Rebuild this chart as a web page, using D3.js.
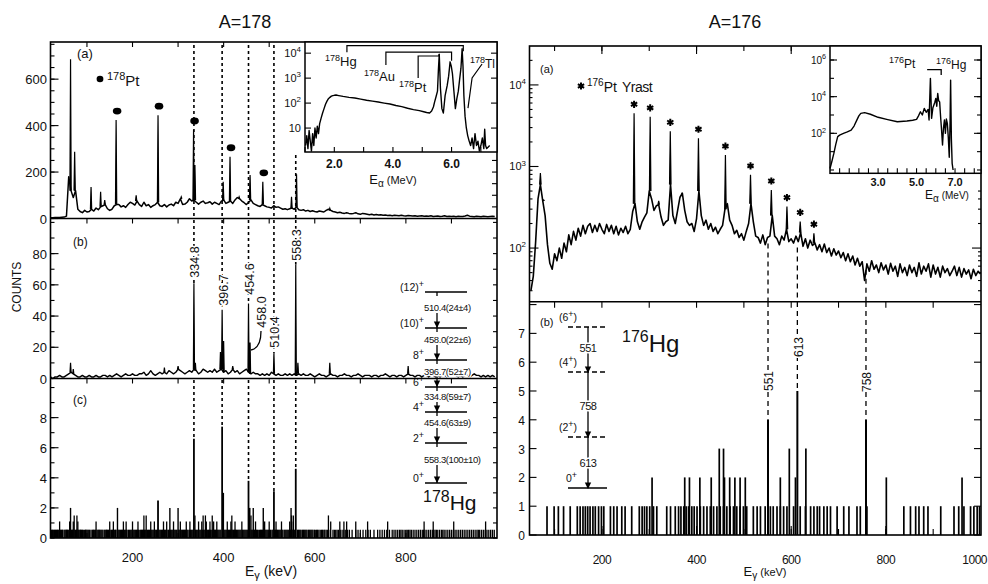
<!DOCTYPE html>
<html>
<head>
<meta charset="utf-8">
<script src="https://cdn.jsdelivr.net/npm/d3@7"></script>
<style>
  body { margin: 0; background: #fff; }
  text { fill: #111; }
</style>
</head>
<body>
<script>
// ===================== data : A=178 =====================
// gamma channels start at 20 keV, 5 keV apart
var chStart178 = 20, chStep178 = 5;

// (a) singles spectrum, background trace
var singles178 = [
  3,3,4,4,4,5,6,10,180,120,
  90,120,40,30,25,35,28,30,40,32,
  45,38,50,55,60,42,35,40,55,60,
  60,50,55,48,60,70,65,58,75,60,
  52,70,55,60,48,55,60,70,55,52,
  60,50,58,62,55,70,65,85,60,62,
  70,85,75,80,70,62,70,75,65,68,
  72,62,70,65,60,75,80,65,70,75,
  65,80,90,85,75,68,60,70,80,65,
  60,55,52,60,55,50,48,45,55,48,
  50,45,40,42,38,42,45,40,50,38,
  35,38,32,35,30,33,30,28,32,30,
  28,35,40,35,30,28,25,27,24,22,
  25,22,20,22,25,20,18,22,20,18,
  16,18,15,17,15,16,14,15,13,14,
  12,14,13,12,14,12,11,13,12,11,
  12,10,11,12,10,11,10,12,9,10,
  11,9,10,12,9,10,9,10,8,10,
  9,9,11,14,10,9,8,10,9,8,
  10,9,8,9,10,9
];
// (a) singles peaks [keV, counts]
var singlesPeaks178 = [
  [64,686],[73,287],[109,136],[130,115],[139,79],[164,424],[208,100],
  [256,445],[307,93],[334,381],[337,230],[399,158],[414,266],[434,93],
  [458,187],[486,158],[549,93],[560,190],[633,44]
];
var ptDots178 = [164, 256, 334, 414, 486];

// (b) gated spectrum
var gated178 = [
  1,0,1,1,2,1,1,2,3,4,
  3,2,1,1,2,1,1,2,1,1,
  2,1,1,2,2,1,2,1,2,3,
  2,1,2,3,2,2,3,2,2,3,
  3,4,2,3,5,3,2,3,4,3,
  4,3,5,4,3,4,6,5,4,3,
  4,5,4,6,5,3,4,6,5,4,
  5,4,6,4,5,6,4,5,3,4,
  6,4,5,3,4,5,6,4,3,4,
  3,3,2,3,2,3,2,4,3,2,
  3,2,2,3,2,3,2,3,2,3,
  2,3,2,2,3,2,1,2,3,2,
  2,1,2,3,2,2,1,2,2,3,
  2,2,1,2,2,3,2,1,2,2,
  2,1,2,2,1,2,2,3,2,1,
  2,2,1,2,2,1,2,3,2,2,
  1,2,2,1,2,2,1,2,2,1,
  2,1,2,2,1,2,3,2,2,1,
  2,1,2,2,1,2,3,2,2,1,
  2,1,2,1,2,1
];
var gatedPeaks178 = [
  [64,10],[70,6],[270,7],[300,8],[334.8,61],[338,10],[393,17],[396.7,44],
  [400,24],[420,8],[454.6,48],[458,23],[510.4,16],[558.3,73],[563,10],
  [633,10],[805,8],[925,5]
];

// (c) recoil-decay tagged spectrum, bars by height
var cHalf178 = [22,25,29,33,36,40,44,47,52,55,58,62,66,69,75,78,83,86,90,95,98,
  102,106,112,115,119,124,127,131,135,140,143,147,151,156,160,163,168,172,176,
  180,184,188,193,197,201,205,209,213,218,222,226,230,235,239,243,247,251,255,
  260,264,268,272,276,281,285,289,293,297,302,306,310,314,318,322,327,331,338,
  342,346,350,355,359,363,367,371,376,380,384,388,392,401,405,409,413,418,422,
  426,430,434,438,443,447,451,460,464,468,472,476,481,485,489,493,497,501,506,
  514,518,522,526,530,535,539,543,547,552,556,562,566,570,575,579,583,588,592,
  596,601,606,612,617,622,628,640,646,652,660,668,676,690,700,712,722,738,748,
  758,770,778,786,792,800,806,812,820,828,836,842,850,858,864,870,878,884,892,
  900,908,916,924,932,940,948,956,962,970,978,986,994,
  24,27,31,35,38,42,46,50,54,57,60,64,68,72,77,81,85,88,92,97,100,104,109,114,
  117,122,126,129,133,138,142,145,149,154,158,162,166,170,174,178,182,186,191,
  195,199,203,207,211,216,220,224,228,233,237,241,245,249,253,258,262,266,270,
  274,279,283,287,291,295,300,304,308,312,316,320,325,329,333,340,344,348,353,
  357,361,365,369,374,378,382,386,390,394,403,407,411,415,420,424,428,432,436,
  441,445,449,453,462,466,470,474,479,483,487,491,495,499,503,508,512,516,520,
  524,528,533,537,541,545,550,554,558,564,568,573,577,581,586,590,594,599,604,
  609,615,620,625,634,643,649,656,664,672,682,695,706,717,730,743,753,764,774,
  782,789,796,803,809,816,824,832,839,846,854,861,867,874,881,888,896,904,912,
  920,928,936,944,952,959,966,974,982,990];
var cOne178 = [40,62,70,80,120,150,158,180,186,200,212,240,248,268,275,290,305,
  318,326,345,352,362,370,378,385,408,416,425,440,470,490,500,515,527,545,553,
  635,655,664,670,690,716,760,840,860,905,975];
var cOneHalf178 = [72,78,225,230,337,355,360,375,418,460,549,553,630];
var cTwo178 = [64,167,282,300,465,487,548];
var cPeaks178 = [[256,2.5],[334.8,6.6],[396.7,7.4],[399,3],[454.6,3.8],[457,2],
  [510.4,3.1],[558.3,4.6]];

var lines178 = [334.8, 396.7, 454.6, 510.4, 558.3];
var lineLabels178 = ["334.8", "396.7", "454.6", "510.4", "558.3"];

// inset: alpha spectrum [MeV, counts]
var alpha178 = [
  [1.02,2],[1.06,5],[1.1,1.5],[1.14,8],[1.18,3],[1.22,1.2],[1.26,6],[1.3,2],
  [1.34,10],[1.38,4],[1.42,12],[1.46,6],[1.5,15],[1.55,25],[1.6,40],[1.65,60],
  [1.7,90],[1.75,120],[1.8,150],[1.85,170],[1.9,190],[1.95,200],[2.0,205],
  [2.06,210],[2.15,200],[2.3,185],[2.5,170],[2.7,160],[2.9,145],[3.1,130],
  [3.3,120],[3.5,110],[3.7,100],[3.9,92],[4.1,80],[4.3,72],[4.5,62],[4.7,55],
  [4.9,50],[5.05,45],[5.15,42],[5.25,40],[5.32,48],[5.38,70],[5.42,110],
  [5.47,180],[5.52,300],[5.55,2000],[5.58,9000],[5.62,400],[5.67,60],
  [5.72,40],[5.78,200],[5.85,500],[5.9,1200],[5.95,4500],[5.99,3000],
  [6.03,1500],[6.08,300],[6.13,60],[6.18,150],[6.23,300],[6.28,1000],
  [6.32,2500],[6.36,15000],[6.39,3000],[6.42,200],[6.46,30],[6.5,11],[6.55,5],
  [6.6,3],[6.65,2],[6.7,4],[6.75,1.5],[6.8,6],[6.85,2],[6.9,3],[6.95,1.2],
  [7.0,2],[7.05,4],[7.1,1.5],[7.13,9],[7.16,2],[7.2,1.5],[7.3,2]
];

var levels178 = ["0", "2", "4", "6", "8", "(10)", "(12)"];
var trans178 = ["558.3(100\u00b110)", "454.6(63\u00b19)", "334.8(59\u00b17)",
  "396.7(52\u00b17)", "458.0(22\u00b16)", "510.4(24\u00b14)"];

// ===================== data : A=176 =====================
var chStart176 = 50, chStep176 = 5;
var singles176 = [
  30,45,120,400,600,380,250,110,65,55,
  85,70,100,75,115,90,145,110,160,125,
  175,140,190,150,185,200,155,190,160,200,
  170,150,195,160,190,150,185,145,175,155,
  185,150,170,280,350,210,170,210,240,270,
  500,400,290,330,340,240,190,210,220,600,
  250,200,290,420,470,290,210,190,200,160,
  230,500,250,190,220,170,200,160,180,150,
  170,190,300,350,220,190,150,165,135,150,
  125,160,200,350,210,140,135,115,145,110,
  135,140,250,140,130,110,140,125,170,120,
  130,115,140,120,155,105,130,100,125,108,
  115,95,110,90,112,88,100,80,98,82,
  92,76,88,70,85,68,80,62,75,60,
  68,40,64,52,70,55,62,50,66,54,
  62,48,65,52,60,45,64,50,58,46,
  62,50,58,45,66,48,60,52,64,44,
  62,48,58,44,60,50,56,46,52,60,
  46,58,44,56,48,54,42,55,46,52,
  48
];
var singlesPeaks176 = [
  [70,830],[77,390],[268,4490],[302,4060],[320,380],[344.5,2700],[369,470],
  [404,2220],[461,1380],[514,790],[558,515],[591,323],[619,212],[648,152]
];
var yrast176 = [268, 302, 344.5, 404, 461, 514, 558, 591, 619, 648];

// (b) tagged spectrum bars
var ones176 = [84,99,108,119,133,148,154,160,165,170,175,181,186,193,199,204,218,
  225,232,242,249,263,279,285,290,295,301,309,316,337,345,355,362,367,373,378,
  383,390,395,401,408,415,422,429,436,443,450,457,464,471,478,485,492,499,506,
  520,528,535,545,556,562,570,577,584,591,605,619,630,641,648,655,660,669,676,
  683,697,711,722,739,746,760,838,852,863,870,880,889,916,944,954,965,979,986,
  993,998];
var twos176 = [306,375,385,407,431,459,470,481,492,503,577,609,801,961];
var threes176 = [448,457,596,631];
var peaks176 = [[551,4],[613,5],[758,4]];
var lines176 = [551, 613, 758];

var alpha176 = [
  [0.5,1.2],[0.6,3],[0.7,8],[0.8,25],[0.9,66],[1.0,80],[1.2,100],[1.4,120],
  [1.6,150],[1.75,250],[1.9,540],[2.0,900],[2.1,1230],[2.3,1340],[2.6,1100],
  [3.0,750],[3.5,560],[4.0,430],[4.5,470],[4.8,520],[5.0,580],[5.1,900],
  [5.2,1500],[5.3,1000],[5.4,2300],[5.5,1400],[5.6,2000],[5.65,530],
  [5.72,100000],[5.78,660],[5.85,2500],[5.95,5000],[6.0,8100],[6.05,3000],
  [6.1,15000],[6.15,6000],[6.2,5200],[6.25,800],[6.3,150],[6.35,23],[6.4,200],
  [6.45,540],[6.5,100],[6.55,600],[6.6,350],[6.65,60],[6.7,5],[6.74,300],
  [6.77,80000],[6.81,50],[6.85,2.3],[6.9,1]
];
var levels176 = ["0+", "(2+)", "(4+)", "(6+)"];
var trans176 = ["613", "758", "551"];

// ===================== drawing helpers =====================
var svg = d3.select("body").append("svg")
    .attr("width", 988).attr("height", 584)
    .style("font-family", "'Liberation Sans', Arial, sans-serif");

function line(x1, y1, x2, y2, w, dash) {
  var l = svg.append("line")
      .attr("x1", x1).attr("y1", y1).attr("x2", x2).attr("y2", y2)
      .attr("stroke", "#000").attr("stroke-width", w || 1.2);
  if (dash) l.attr("stroke-dasharray", dash);
  return l;
}
function label(x, y, str, size, anchor) {
  return svg.append("text").attr("x", x).attr("y", y)
      .attr("font-size", size).attr("text-anchor", anchor || "start").text(str);
}
// small mass number before the symbol, e.g. 178Pt
function nuclide(x, y, mass, sym, mSize, sSize) {
  var t = svg.append("text").attr("x", x).attr("y", y);
  t.append("tspan").attr("font-size", mSize).attr("dy", -sSize * 0.4).text(mass);
  t.append("tspan").attr("font-size", sSize).attr("dy", sSize * 0.4).text(sym);
  return t;
}
function power(x, y, base, exp, size) {
  var t = svg.append("text").attr("x", x).attr("y", y)
      .attr("text-anchor", "end").attr("font-size", size);
  t.append("tspan").text(base);
  if (exp) t.append("tspan").attr("font-size", size * 0.72).attr("dy", -size * 0.45).text(exp);
  return t;
}
function spinLabel(x, y, spin, size, anchor) {   // "(12)" + superscript "+"
  var t = svg.append("text").attr("x", x).attr("y", y)
      .attr("font-size", size).attr("text-anchor", anchor || "end");
  t.append("tspan").text(spin);
  t.append("tspan").attr("font-size", size * 0.85).attr("dy", -size * 0.4).text("+");
  return t;
}
function yTicks(scale, vals, xl, xr, len) {
  vals.forEach(function(v) {
    var yy = scale(v);
    if (xl != null) line(xl, yy, xl + len, yy, 1.1);
    if (xr != null) line(xr, yy, xr - len, yy, 1.1);
  });
}
function xTicks(scale, vals, yy, len) {
  vals.forEach(function(v) { line(scale(v), yy, scale(v), yy + len, 1.1); });
}
function channels(start, step, arr) {
  return arr.map(function(c, i) { return [start + i * step, c]; });
}
function nearest(start, step, arr) {
  return function(e) {
    var i = Math.max(0, Math.min(arr.length - 1, Math.round((e - start) / step)));
    return arr[i];
  };
}
function trace(pts, xs, ys, w) {
  svg.append("path").datum(pts)
      .attr("d", d3.line().x(function(d) { return xs(d[0]); }).y(function(d) { return ys(d[1]); }))
      .attr("fill", "none").attr("stroke", "#000").attr("stroke-width", w || 1.1)
      .attr("stroke-linejoin", "round");
}
function spikes(peaks, base, xs, ys, hw) {
  svg.append("path")
      .attr("d", peaks.map(function(p) {
        var b = base(p[0]);
        return "M" + xs(p[0] - hw) + "," + ys(b) + "L" + xs(p[0]) + "," + ys(p[1]) +
               "L" + xs(p[0] + hw) + "," + ys(b);
      }).join(""))
      .attr("fill", "#000").attr("stroke", "#000").attr("stroke-width", 1.2)
      .attr("stroke-linejoin", "miter");
}
function bars(list, h, xs, ys, w) {
  list.forEach(function(e) { line(xs(e), ys(0), xs(e), ys(h), w); });
}
function arrowHead(x, y, s) {
  svg.append("path").attr("d", "M" + (x - s) + "," + (y - 2 * s) + "L" + (x + s) + "," + (y - 2 * s) + "L" + x + "," + y + "Z")
      .attr("fill", "#000");
}
function halo(sel) {
  return sel.attr("stroke", "#fff").attr("stroke-width", 3).attr("paint-order", "stroke");
}
function vText(x, y, str, size) {
  return halo(svg.append("text")
      .attr("transform", "translate(" + x + "," + y + ") rotate(-90)")
      .attr("text-anchor", "middle").attr("dy", "0.36em")
      .attr("font-size", size).text(str));
}

// ===================== left figure : A=178 =====================
var xL = d3.scaleLinear().domain([20, 1000]).range([50.5, 497]);
var yLa = d3.scaleLinear().domain([0, 760]).range([218.5, 42]);
var yLb = d3.scaleLinear().domain([0, 102.5]).range([378.5, 218.5]);
var yLc = d3.scaleLinear().domain([0, 10.6]).range([538, 378.5]);
var xI = d3.scaleLinear().domain([1.0, 7.55]).range([305, 497]);
var yI = d3.scaleLog().domain([1.1, 28000]).range([152, 42]);

label(245, 28, "A=178", 18, "middle");

// dashed guide lines
lines178.forEach(function(e, i) {
  var top = i === lines178.length - 1 ? yLa(273) : 45;
  line(xL(e), top, xL(e), 218, 1.6, "3,3");
  var gp = gatedPeaks178.filter(function(p) { return p[0] === e; })[0];
  line(xL(e), 220, xL(e), yLb(gp[1]), 1.6, "3,3");
  var cp = cPeaks178.filter(function(p) { return p[0] === e; })[0];
  line(xL(e), 380, xL(e), yLc(cp[1]), 1.6, "3,3");
});

// (a) spectrum
trace(channels(chStart178, chStep178, singles178), xL, yLa, 1.5);
spikes(singlesPeaks178, nearest(chStart178, chStep178, singles178), xL, yLa, 1.4);
ptDots178.forEach(function(e) {
  var p = singlesPeaks178.filter(function(q) { return q[0] === e; })[0];
  svg.append("ellipse").attr("cx", xL(e) + 1).attr("cy", yLa(p[1]) - 9)
      .attr("rx", 4.3).attr("ry", 3.4).attr("fill", "#000");
});
svg.append("ellipse").attr("cx", 100).attr("cy", 79).attr("rx", 3.4).attr("ry", 3.2).attr("fill", "#000");
nuclide(107, 86, "178", "Pt", 11, 15);
label(77, 58, "(a)", 13);

// (b) spectrum
trace(channels(chStart178, chStep178, gated178), xL, yLb, 1.4);
spikes(gatedPeaks178, nearest(chStart178, chStep178, gated178), xL, yLb, 1.2);
var lblY178 = [262, 290, 279, 332, 245];
lines178.forEach(function(e, i) { vText(xL(e) + 1, lblY178[i], lineLabels178[i], 12.5); });
vText(261, 312, "458.0", 12.5);
svg.append("path").attr("d", "M" + (xL(458) + 1) + ",350 Q261,348 261,331")
    .attr("fill", "none").attr("stroke", "#000").attr("stroke-width", 1.3);
label(73, 246, "(b)", 12);

// (c) spectrum
bars(cHalf178, 0.55, xL, yLc, 1.3);
bars(cOne178, 1.1, xL, yLc, 1.3);
bars(cOneHalf178, 1.5, xL, yLc, 1.3);
bars(cTwo178, 2.0, xL, yLc, 1.4);
cPeaks178.forEach(function(p) { line(xL(p[0]), yLc(0), xL(p[0]), yLc(p[1]), 1.8); });
label(73, 404, "(c)", 12);

// level scheme of 178Hg
var lvY178 = [483, 443, 412, 387, 360, 328, 292];
var trY178 = [463, 426, 400, 375, 343, 311];
levels178.forEach(function(s, i) {
  line(425, lvY178[i], 467, lvY178[i], 1.3);
  spinLabel(424, lvY178[i] - 1, s, 10.5);
});
trans178.forEach(function(s, i) {
  line(437, lvY178[i + 1], 437, lvY178[i + 1] + 4, 1.3);
  line(437, trY178[i] + 2, 437, lvY178[i], 1.3);
  arrowHead(437, lvY178[i], 3.2);
  halo(label(424, trY178[i], s, 9.5)).attr("letter-spacing", -0.4);
});
nuclide(423, 510, "178", "Hg", 16, 21);

// left frame and axes
svg.append("rect").attr("x", 50.5).attr("y", 42).attr("width", 446.5).attr("height", 496)
    .attr("fill", "none").attr("stroke", "#000").attr("stroke-width", 1.6);
line(50.5, 218.5, 497, 218.5, 1.6);
line(50.5, 378.5, 497, 378.5, 1.6);

yTicks(yLa, d3.range(0, 751, 50), 50.5, null, 4);
yTicks(yLa, [0, 200, 400, 600], 50.5, null, 8);
yTicks(yLa, d3.range(0, 251, 50), null, 497, 5);
yTicks(yLb, d3.range(0, 101, 10), 50.5, 497, 4);
yTicks(yLb, [20, 40, 60, 80], 50.5, null, 8);
yTicks(yLc, d3.range(0, 11, 1), 50.5, 497, 4);
yTicks(yLc, [2, 4, 6, 8], 50.5, null, 8);
[0, 200, 400, 600].forEach(function(v) { label(47, yLa(v) + 5, v, 13, "end"); });
[0, 20, 40, 60, 80].forEach(function(v) { label(47, yLb(v) + 5, v, 13, "end"); });
[0, 2, 4, 6, 8].forEach(function(v) { label(47, yLc(v) + 5, v, 13, "end"); });

var e100 = d3.range(100, 901, 100);
xTicks(xL, e100, 42, 5);
xTicks(xL, e100, 218.5, 5);
xTicks(xL, e100, 378.5, 5);
xTicks(xL, e100, 538, -5);
xTicks(xL, [200, 400, 600, 800], 538, -8);
[200, 400, 600, 800].forEach(function(v) { label(xL(v), 562, v, 13, "middle"); });
var eg = label(271, 576, "", 14, "middle");
eg.append("tspan").text("E");
eg.append("tspan").attr("font-size", 11).attr("dy", 3).text("\u03b3");
eg.append("tspan").attr("dy", -3).text(" (keV)");
svg.append("text").attr("transform", "translate(21,287) rotate(-90)")
    .attr("text-anchor", "middle").attr("font-size", 12).text("COUNTS");

// inset alpha spectrum
svg.append("rect").attr("x", 305).attr("y", 42).attr("width", 192).attr("height", 110)
    .attr("fill", "#fff").attr("stroke", "#000").attr("stroke-width", 1.5);
trace(alpha178, xI, yI, 1.4);
yTicks(yI, [10, 100, 1000, 10000], 305, 497, 6);
xTicks(xI, [1, 2, 3, 4, 5, 6, 7], 152, -5);
power(301, yI(10) + 4, "10", "", 11);
power(301, yI(100) + 4, "10", "2", 11);
power(301, yI(1000) + 4, "10", "3", 11);
power(301, yI(10000) + 4, "10", "4", 11);
[2, 4, 6].forEach(function(v) { label(xI(v), 168, v.toFixed(1), 12, "middle").attr("font-weight", "bold"); });
var ea = label(393, 184, "", 13, "middle");
ea.append("tspan").text("E");
ea.append("tspan").attr("font-size", 10).attr("dy", 3).text("\u03b1");
ea.append("tspan").attr("dy", -3).attr("font-size", 11).text(" (MeV)");
// decay-chain brackets
function bracket(e1, c1, e2, c2, cTop) {
  svg.append("path").attr("d", "M" + xI(e1) + "," + yI(c1) + "V" + yI(cTop) + "H" + xI(e2) + "V" + yI(c2))
      .attr("fill", "none").attr("stroke", "#000").attr("stroke-width", 1.2);
}
bracket(2.43, 11000, 6.4, 12000, 20000);
bracket(3.76, 3360, 6.0, 5000, 11000);
bracket(4.86, 1010, 5.57, 9000, 7700);
svg.append("path").attr("d", "M" + xI(6.56) + "," + yI(63) + "L" + xI(6.7) + "," + yI(1010) + "L" + xI(7.04) + "," + yI(3680))
    .attr("fill", "none").attr("stroke", "#000").attr("stroke-width", 1.2);
nuclide(325, 66, "178", "Hg", 9, 13);
nuclide(364, 81, "178", "Au", 9, 13);
nuclide(399, 92, "178", "Pt", 9, 13);
nuclide(470, 68, "178", "Tl", 9, 12);

// ===================== right figure : A=176 =====================
var xR = d3.scaleLinear().domain([47, 1000]).range([529.5, 980.5]);
var yRa = d3.scaleLog().domain([22, 30000]).range([301.7, 46]);
var yRb = d3.scaleLinear().domain([0, 8.1]).range([535, 301.7]);
var xRI = d3.scaleLinear().domain([0.5, 8.35]).range([830, 981]);
var yRI = d3.scaleLog().domain([0.66, 5.8e6]).range([173.3, 46]);

label(735, 28, "A=176", 18, "middle");

// (a) spectrum
var base176 = nearest(chStart176, chStep176, singles176);
lines176.forEach(function(e) {
  line(xR(e), yRa(base176(e)) + 6, xR(e), 301, 1.3, "5,4");
});
trace(channels(chStart176, chStep176, singles176), xR, yRa, 1.6);
spikes(singlesPeaks176, base176, xR, yRa, 1.6);
var star = d3.symbol().type(d3.symbolAsterisk).size(36);
yrast176.forEach(function(e) {
  var p = singlesPeaks176.filter(function(q) { return q[0] === e; })[0];
  svg.append("path").attr("d", star)
      .attr("transform", "translate(" + xR(e) + "," + (yRa(p[1]) - 9) + ")")
      .attr("fill", "none").attr("stroke", "#000").attr("stroke-width", 2);
});
svg.append("path").attr("d", star).attr("transform", "translate(581,86)")
    .attr("fill", "none").attr("stroke", "#000").attr("stroke-width", 2);
nuclide(587, 92, "176", "Pt", 10, 14);
label(622, 92, "Yrast", 14).attr("letter-spacing", -0.5);
label(540, 73, "(a)", 11);

// (b) spectrum
lines176.forEach(function(e) {
  var p = peaks176.filter(function(q) { return q[0] === e; })[0];
  line(xR(e), 302, xR(e), yRb(p[1]), 1.3, "5,4");
});
bars(ones176, 1, xR, yRb, 1.7);
bars(twos176, 2, xR, yRb, 1.7);
bars(threes176, 3, xR, yRb, 1.7);
peaks176.forEach(function(p) { line(xR(p[0]), yRb(0), xR(p[0]), yRb(p[1]), 2); });
var lblY176 = [381, 347, 382];
lines176.forEach(function(e, i) { vText(xR(e) + 1, lblY176[i], String(e), 12); });
label(540, 326, "(b)", 11);

// level scheme of 176Hg
var lvY176 = [488, 437, 372, 327];
var trY176 = [467, 410, 352];
levels176.forEach(function(s, i) {
  line(568, lvY176[i], 607, lvY176[i], 1.3, i === 0 ? null : "5,3");
  var t = svg.append("text").attr("x", 577).attr("y", lvY176[i] - 6)
      .attr("text-anchor", "end").attr("font-size", 10.5);
  var sp = s.replace("+", "").replace(")", "");
  t.append("tspan").text(sp);
  t.append("tspan").attr("font-size", 9).attr("dy", -4).text("+");
  if (s.indexOf(")") >= 0) t.append("tspan").attr("dy", 4).text(")");
});
trans176.forEach(function(s, i) {
  line(588, lvY176[i + 1], 588, lvY176[i], 1.3);
  arrowHead(588, lvY176[i] + 1, 3.2);
  halo(label(588, trY176[i], s, 11, "middle")).attr("letter-spacing", -0.4);
});
nuclide(622, 352, "176", "Hg", 16, 24);

// right frame and axes
svg.append("rect").attr("x", 529.5).attr("y", 46).attr("width", 451.5).attr("height", 489)
    .attr("fill", "none").attr("stroke", "#000").attr("stroke-width", 1.6);
line(529.5, 301.7, 981, 301.7, 1.6);
yTicks(yRa, [100, 1000, 10000], 529.5, null, 9);
yTicks(yRa, [30, 40, 50, 60, 70, 80, 90, 200, 300, 400, 500, 600, 700, 800, 900,
  2000, 3000, 4000, 5000, 6000, 7000, 8000, 9000, 20000], 529.5, null, 3);
yTicks(yRa, [100], null, 981, 9);
yTicks(yRa, [30, 40, 50, 60, 70, 80, 90, 200, 300, 400, 500], null, 981, 3);
power(526, yRa(100) + 4, "10", "2", 11);
power(526, yRa(1000) + 4, "10", "3", 11);
power(526, yRa(10000) + 4, "10", "4", 11);
yTicks(yRb, d3.range(0, 9, 1), 529.5, 981, 7);
d3.range(0, 8, 1).forEach(function(v) { label(525, yRb(v) + 5, v, 12, "end"); });

var r100 = d3.range(100, 901, 100);
xTicks(xR, r100, 46, 5);
xTicks(xR, [200, 400, 600, 800], 46, 8);
xTicks(xR, r100, 301.7, 6);
xTicks(xR, r100, 535, -6);
xTicks(xR, [200, 400, 600, 800], 535, -9);
[200, 400, 600, 800].forEach(function(v) {
  label(xR(v), 564, v, 12, "middle").attr("letter-spacing", -0.5);
});
label(987, 564, 1000, 12, "end").attr("letter-spacing", -0.5);
var eg2 = label(765, 576, "", 13, "middle");
eg2.append("tspan").text("E");
eg2.append("tspan").attr("font-size", 10).attr("dy", 3).text("\u03b3");
eg2.append("tspan").attr("dy", -3).attr("font-size", 11).text(" (keV)");

// inset alpha spectrum
svg.append("rect").attr("x", 830).attr("y", 46).attr("width", 151).attr("height", 127.3)
    .attr("fill", "#fff").attr("stroke", "#000").attr("stroke-width", 1.5);
trace(alpha176, xRI, yRI, 1.4);
yTicks(yRI, [1, 10, 100, 1000, 10000, 100000, 1000000], 830, 981, 4);
yTicks(yRI, [100, 10000, 1000000], 830, 981, 7);
xTicks(xRI, d3.range(1, 8.01, 0.5), 173.3, -5);
power(826, yRI(100) + 4, "10", "2", 10);
power(826, yRI(10000) + 4, "10", "4", 10);
power(826, yRI(1000000) + 4, "10", "6", 10);
[3, 5, 7].forEach(function(v) { label(xRI(v), 186, v.toFixed(1), 11, "middle").attr("font-weight", "bold"); });
var ea2 = label(947, 199, "", 12, "middle");
ea2.append("tspan").text("E");
ea2.append("tspan").attr("font-size", 10).attr("dy", 3).text("\u03b1");
ea2.append("tspan").attr("dy", -3).attr("font-size", 10).text(" (MeV)");
svg.append("path").attr("d", "M" + xRI(5.55) + "," + yRI(3e5) + "H" + xRI(6.28) + "V" + yRI(1.5e5))
    .attr("fill", "none").attr("stroke", "#000").attr("stroke-width", 1.3);
nuclide(889, 68, "176", "Pt", 9, 12);
nuclide(936, 69, "176", "Hg", 9, 12);
</script>
</body>
</html>
